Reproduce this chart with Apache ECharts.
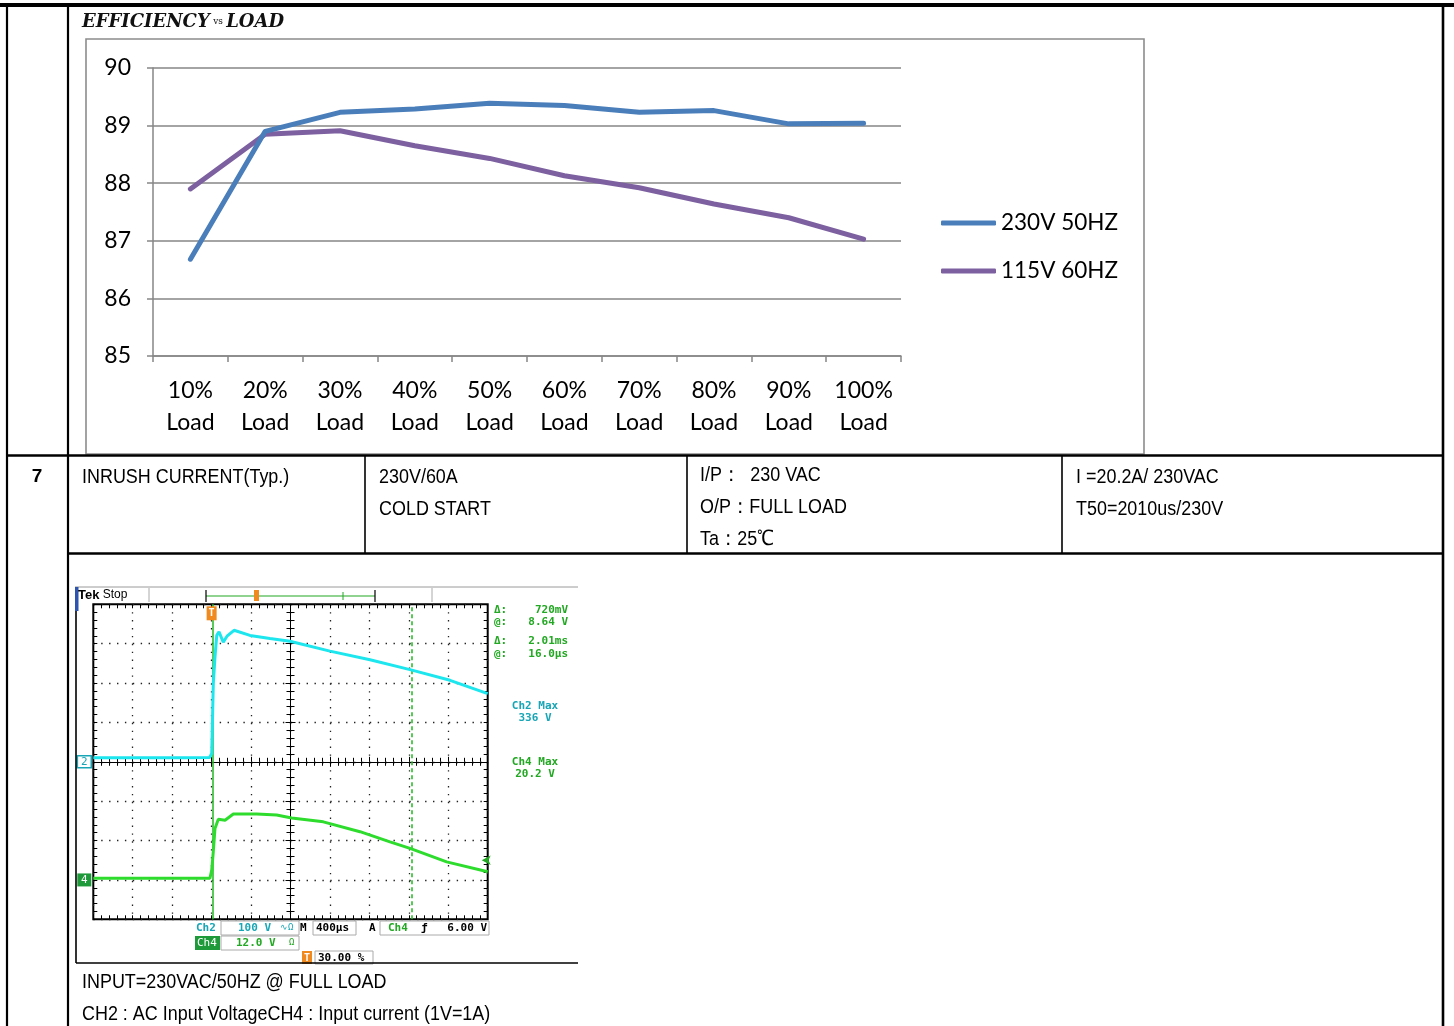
<!DOCTYPE html>
<html><head><meta charset="utf-8">
<script src="https://cdn.jsdelivr.net/npm/echarts@6/dist/echarts.min.js"></script>
<style>html,body{margin:0;padding:0;background:#fff}#c{width:1454px;height:1026px}</style>
</head><body><div id="c"></div>
<script>
// ---------- Efficiency vs load ----------
const loadLabels = ['10%\nLoad','20%\nLoad','30%\nLoad','40%\nLoad','50%\nLoad','60%\nLoad','70%\nLoad','80%\nLoad','90%\nLoad','100%\nLoad'];
const seriesNames = ['230V 50HZ', '115V 60HZ'];
const eff230 = [86.68, 88.90, 89.23, 89.29, 89.39, 89.35, 89.23, 89.26, 89.03, 89.04];
const eff115 = [87.90, 88.85, 88.91, 88.65, 88.43, 88.13, 87.92, 87.64, 87.40, 87.03];
const effMin = 85, effMax = 90, effStep = 1;

// ---------- Inrush oscilloscope capture ----------
const ch2Time = [-1200, -900, -600, -300, -20, 1, 17, 34, 52, 75, 118, 156, 227, 389, 592, 795, 1200, 1606, 2012, 2418, 2800]; // µs
const ch2Volt = [10, 10, 10, 10, 11, 21, 198, 266, 321, 330, 304, 319, 334, 321, 313, 306, 281, 259, 234, 207, 173];           // V
const ch4Time = [-1200, -900, -600, -300, -17, 1, 17, 34, 68, 136, 220, 457, 660, 812, 1133, 1505, 1809, 2012, 2384, 2800];    // µs
const ch4Volt = [0.5, 0.5, 0.5, 0.5, 0.5, 3.0, 8.6, 15.7, 18.5, 18.2, 20.1, 20.1, 19.8, 18.9, 17.7, 14.7, 11.6, 9.6, 5.5, 2.5]; // V (1V=1A)
const cursorTimes = [16, 2026];
const triggerLevel = 6.0;

const FN = '"Liberation Sans Narrow","Liberation Sans",Arial,sans-serif';
const MONO = '"DejaVu Sans Mono",monospace';
const CYAN = '#1DE6EE', GREEN = '#2EDC2E', LGREEN = '#22A822', LCYAN = '#18A6B6';
const NARROW = 0.875;

function L(x1, y1, x2, y2, w, c, z) { return {type:'line', z: z || 20, shape:{x1, y1, x2, y2}, style:{stroke: c || '#000', lineWidth: w || 2}, silent:true}; }
function T(x, y, text, opt) {
  opt = opt || {};
  return {type:'text', x, y, z: 30, silent:true, scaleX: opt.sx || 1, style:{text, fill: opt.fill || '#000', fontSize: opt.size || 20,
    fontFamily: opt.family || FN, fontWeight: opt.weight || 'normal', align: opt.align || 'left', verticalAlign:'middle'}};
}
function D(x, y, text) { return T(x, y, text, {sx: NARROW, size: 20.5}); }
function R(x, y, w, h, fill, stroke, lw, z) { return {type:'rect', z: z || 15, silent:true, shape:{x, y, width:w, height:h}, style:{fill: fill || 'none', stroke: stroke || 'none', lineWidth: lw || 1}}; }

const gfx = [
  // document table lines
  L(0, 5, 1454, 5, 4),
  L(7, 5, 7, 1026, 2.2), L(68, 5, 68, 1026, 2.2), L(1443, 5, 1443, 1026, 2.6),
  L(7, 455.5, 1443, 455.5, 2.4), L(68, 553.5, 1443, 553.5, 2.4),
  L(365, 455.5, 365, 553.5, 1.6), L(687, 455.5, 687, 553.5, 1.6), L(1062, 455.5, 1062, 553.5, 1.6),
  // chart frame
  R(86, 39, 1058, 415, 'none', '#8c8c8c', 1.6, 1),
  // title
  {type:'text', x:82, y:22, z:30, silent:true, style:{
    text:'{a|EFFICIENCY} {b|vs} {a|LOAD}', verticalAlign:'middle',
    rich:{a:{fontFamily:'"DejaVu Serif",serif', fontWeight:'bold', fontStyle:'italic', fontSize:18, fill:'#111'},
          b:{fontFamily:'"DejaVu Serif",serif', fontSize:9, fill:'#111'}}}},
  // row 7 texts
  T(37, 477, '7', {weight:'bold', align:'center', family:'"Liberation Sans",Arial,sans-serif', size:19}),
  D(82, 477, 'INRUSH CURRENT(Typ.)'),
  D(379, 477, '230V/60A'), D(379, 509, 'COLD START'),
  D(700, 475, 'I/P：  230 VAC'), D(700, 507, 'O/P：FULL LOAD'), D(700, 539, 'Ta：25℃'),
  D(1076, 477, 'I =20.2A/ 230VAC'), D(1076, 509, 'T50=2010us/230V'),
  D(82, 982, 'INPUT=230VAC/50HZ @ FULL LOAD'),
  D(82, 1014, 'CH2 : AC Input VoltageCH4 : Input current (1V=1A)'),
  // scope frame
  L(75, 587, 578, 587, 1, '#9a9a9a'), L(76, 587, 76, 963, 1.6, '#000'), L(76, 963, 578, 963, 1.6, '#000'),
  R(75, 587, 3.5, 24, '#2d55b0', 'none', 1, 21),
  L(149, 588, 149, 602, 1, '#aaa'), L(432, 588, 432, 602, 1, '#aaa'),
  {type:'text', x:78, y:595, z:30, silent:true, style:{text:'{a|Tek}{b| Stop}', verticalAlign:'middle',
    rich:{a:{fontFamily:'"Liberation Sans",Arial', fontWeight:'bold', fontSize:13, fill:'#000'},
          b:{fontFamily:'"Liberation Sans",Arial', fontSize:12, fill:'#000'}}}},
  L(206, 596, 375, 596, 1.2, LGREEN),
  L(206, 590, 206, 602, 1.2, '#000'), L(375, 590, 375, 602, 1.2, '#000'),
  L(343, 592, 343, 600, 1, LGREEN),
  R(254, 590, 5, 11, '#f08a1e', 'none', 1, 22),
  // scope right readouts
  T(494, 610, 'Δ:', {family:MONO, size:11, weight:'bold', fill:LGREEN}), T(568, 610, '720mV', {family:MONO, size:11, weight:'bold', fill:LGREEN, align:'right'}),
  T(494, 622, '@:', {family:MONO, size:11, weight:'bold', fill:LGREEN}), T(568, 622, '8.64 V', {family:MONO, size:11, weight:'bold', fill:LGREEN, align:'right'}),
  T(494, 641, 'Δ:', {family:MONO, size:11, weight:'bold', fill:LGREEN}), T(568, 641, '2.01ms', {family:MONO, size:11, weight:'bold', fill:LGREEN, align:'right'}),
  T(494, 654, '@:', {family:MONO, size:11, weight:'bold', fill:LGREEN}), T(568, 654, '16.0µs', {family:MONO, size:11, weight:'bold', fill:LGREEN, align:'right'}),
  T(535, 706, 'Ch2 Max', {family:MONO, size:11, weight:'bold', fill:LCYAN, align:'center'}), T(535, 718, '336 V', {family:MONO, size:11, weight:'bold', fill:LCYAN, align:'center'}),
  T(535, 762, 'Ch4 Max', {family:MONO, size:11, weight:'bold', fill:LGREEN, align:'center'}), T(535, 774, '20.2 V', {family:MONO, size:11, weight:'bold', fill:LGREEN, align:'center'}),
  // scope bottom readouts
  T(196, 928, 'Ch2', {family:MONO, size:11, weight:'bold', fill:LCYAN}),
  R(221, 921, 78, 14, 'none', '#aaa', 1),
  T(238, 928, '100 V', {family:MONO, size:11, weight:'bold', fill:LCYAN}), T(280, 928, '∿Ω', {family:MONO, size:9, fill:LCYAN}),
  T(300, 928, 'M', {family:MONO, size:11, weight:'bold'}),
  R(313, 921, 43, 14, 'none', '#aaa', 1), T(316, 928, '400µs', {family:MONO, size:11, weight:'bold'}),
  T(369, 928, 'A', {family:MONO, size:11, weight:'bold'}),
  R(380, 921, 109, 14, 'none', '#aaa', 1),
  T(388, 928, 'Ch4', {family:MONO, size:11, weight:'bold', fill:LGREEN}), T(421, 928, 'ƒ', {family:MONO, size:11, weight:'bold'}),
  T(487, 928, '6.00 V', {family:MONO, size:11, weight:'bold', align:'right'}),
  R(195, 936, 25, 14, '#1e9a3a', 'none', 1), T(197, 943, 'Ch4', {family:MONO, size:11, fill:'#fff'}),
  R(221, 936, 78, 14, 'none', '#aaa', 1),
  T(236, 943, '12.0 V', {family:MONO, size:11, weight:'bold', fill:LGREEN}), T(289, 943, 'Ω', {family:MONO, size:9, fill:LGREEN}),
  R(302, 951, 10, 13, '#f08a1e', 'none', 1), T(307, 958, 'T', {family:MONO, size:10, weight:'bold', fill:'#fff', align:'center'}),
  R(315, 951, 58, 13, 'none', '#aaa', 1), T(318, 958, '30.00 %', {family:MONO, size:11, weight:'bold'})
];

const gray = '#868686';
const dotted = {show:true, lineStyle:{color:'#222', width:1.3, type:[1.4, 6.5]}};
function scopeX(extra) {
  return Object.assign({type:'value', gridIndex:1, min:-1200, max:2800, interval:400,
    axisLabel:{show:false}, splitLine:{show:false},
    axisLine:{show:false, onZero:false}, axisTick:{show:true, inside:true, length:4, lineStyle:{color:'#000'}},
    minorTick:{show:true, splitNumber:5, length:4, lineStyle:{color:'#000'}}}, extra);
}
function scopeY(extra) {
  return Object.assign({type:'value', gridIndex:1, min:-400, max:400, interval:100,
    axisLabel:{show:false}, splitLine:{show:false},
    axisLine:{show:false, onZero:false}, axisTick:{show:true, inside:true, length:4, lineStyle:{color:'#000'}},
    minorTick:{show:true, splitNumber:5, length:4, lineStyle:{color:'#000'}}}, extra);
}
const centerLine = {color:'#000', width:1};

const option = {
  animation:false,
  backgroundColor:'#fff',
  graphic:{elements:gfx},
  legend:{
    data:seriesNames, orient:'vertical', left:941, top:211, padding:0, itemWidth:55, itemHeight:5, itemGap:24,
    icon:'roundRect', textStyle:{fontFamily:'Lato', fontSize:22.5, color:'#000', lineHeight:24}
  },
  grid:[
    {left:153, top:68, width:748, height:288},
    {left:93.3, top:604.3, width:394.4, height:315, show:true, borderColor:'#000', borderWidth:2, backgroundColor:'transparent'}
  ],
  xAxis:[
    {type:'category', gridIndex:0, data:loadLabels, boundaryGap:true,
     axisLine:{lineStyle:{color:gray, width:1.5}}, axisTick:{show:true, interval:0, length:6, lineStyle:{color:gray, width:1.5}},
     axisLabel:{interval:0, fontFamily:'Lato', fontSize:23, color:'#000', margin:19, lineHeight:32}},
    scopeX({position:'bottom', splitLine:dotted}),
    scopeX({position:'top'}),
    scopeX({position:'bottom', axisLine:{show:true, onZero:true, onZeroAxisIndex:1, lineStyle:centerLine}, axisTick:{show:true, inside:false, length:5, lineStyle:{color:'#000'}}}),
    scopeX({position:'bottom', axisLine:{show:true, onZero:true, onZeroAxisIndex:1, lineStyle:centerLine}, axisTick:{show:true, inside:true, length:5, lineStyle:{color:'#000'}}}),
    scopeX({min:-5, max:5, interval:1, axisTick:{show:false}, minorTick:{show:false}})
  ],
  yAxis:[
    {type:'value', gridIndex:0, min:effMin, max:effMax, interval:effStep,
     axisLine:{show:true, lineStyle:{color:gray, width:1.5}}, axisTick:{show:true, length:6, lineStyle:{color:gray, width:1.5}},
     splitLine:{lineStyle:{color:gray, width:1.5}},
     axisLabel:{fontFamily:'Lato', fontSize:23, color:'#000', margin:22}},
    scopeY({position:'left', splitLine:dotted}),
    scopeY({position:'right', min:-12, max:84, interval:12}),
    scopeY({position:'left', min:-4, max:4, interval:1, axisLine:{show:true, onZero:true, onZeroAxisIndex:5, lineStyle:centerLine}, axisTick:{show:true, inside:false, length:5, lineStyle:{color:'#000'}}}),
    scopeY({position:'left', min:-4, max:4, interval:1, axisLine:{show:true, onZero:true, onZeroAxisIndex:5, lineStyle:centerLine}, axisTick:{show:true, inside:true, length:5, lineStyle:{color:'#000'}}})
  ],
  series:[
    {name:seriesNames[0], type:'line', xAxisIndex:0, yAxisIndex:0, data:eff230, symbol:'none', z:5,
     itemStyle:{color:'#4A7EBB'}, lineStyle:{color:'#4A7EBB', width:5, cap:'round', join:'round'}},
    {name:seriesNames[1], type:'line', xAxisIndex:0, yAxisIndex:0, data:eff115, symbol:'none', z:4,
     itemStyle:{color:'#7D60A0'}, lineStyle:{color:'#7D60A0', width:5, cap:'round', join:'round'}},
    {name:'Ch2', type:'line', xAxisIndex:1, yAxisIndex:1, symbol:'none', z:6,
     data:ch2Time.map((t, i) => [t, ch2Volt[i]]), lineStyle:{color:CYAN, width:3}, itemStyle:{color:CYAN},
     markPoint:{symbol:'rect', silent:true, data:[
       {coord:[-1200, 0], symbolSize:[14, 12], symbolOffset:[-9, 0], itemStyle:{color:'#fff', borderColor:LCYAN, borderWidth:1.5},
        label:{show:true, formatter:'2', color:LCYAN, fontSize:11, fontFamily:MONO}},
       {coord:[0, 400], symbolSize:[10, 14], symbolOffset:[0, 9], itemStyle:{color:'#f08a1e'},
        label:{show:true, formatter:'T', color:'#fff', fontSize:10, fontWeight:'bold', fontFamily:MONO}}
     ]}},
    {name:'Ch4', type:'line', xAxisIndex:1, yAxisIndex:2, symbol:'none', z:6,
     data:ch4Time.map((t, i) => [t, ch4Volt[i]]), lineStyle:{color:GREEN, width:3}, itemStyle:{color:GREEN},
     markLine:{symbol:'none', silent:true, label:{show:false}, data:[
       {xAxis:cursorTimes[0], lineStyle:{color:'#1fb81f', width:1.5, type:'solid'}},
       {xAxis:cursorTimes[1], lineStyle:{color:'#1fb81f', width:1.5, type:[4, 3]}}
     ]},
     markPoint:{symbol:'rect', silent:true, data:[
       {coord:[-1200, 0], symbolSize:[14, 13], symbolOffset:[-9, 0], itemStyle:{color:'#1e9a3a'},
        label:{show:true, formatter:'4', color:'#fff', fontSize:11, fontFamily:MONO}},
       {coord:[2800, triggerLevel], symbol:'arrow', symbolRotate:90, symbolSize:[7, 9], symbolOffset:[-6, 0], itemStyle:{color:LGREEN}, label:{show:false}}
     ]}}
  ]
};
const chart = echarts.init(document.getElementById('c'), null, {renderer:'canvas'});
chart.setOption(option);
</script></body></html>
